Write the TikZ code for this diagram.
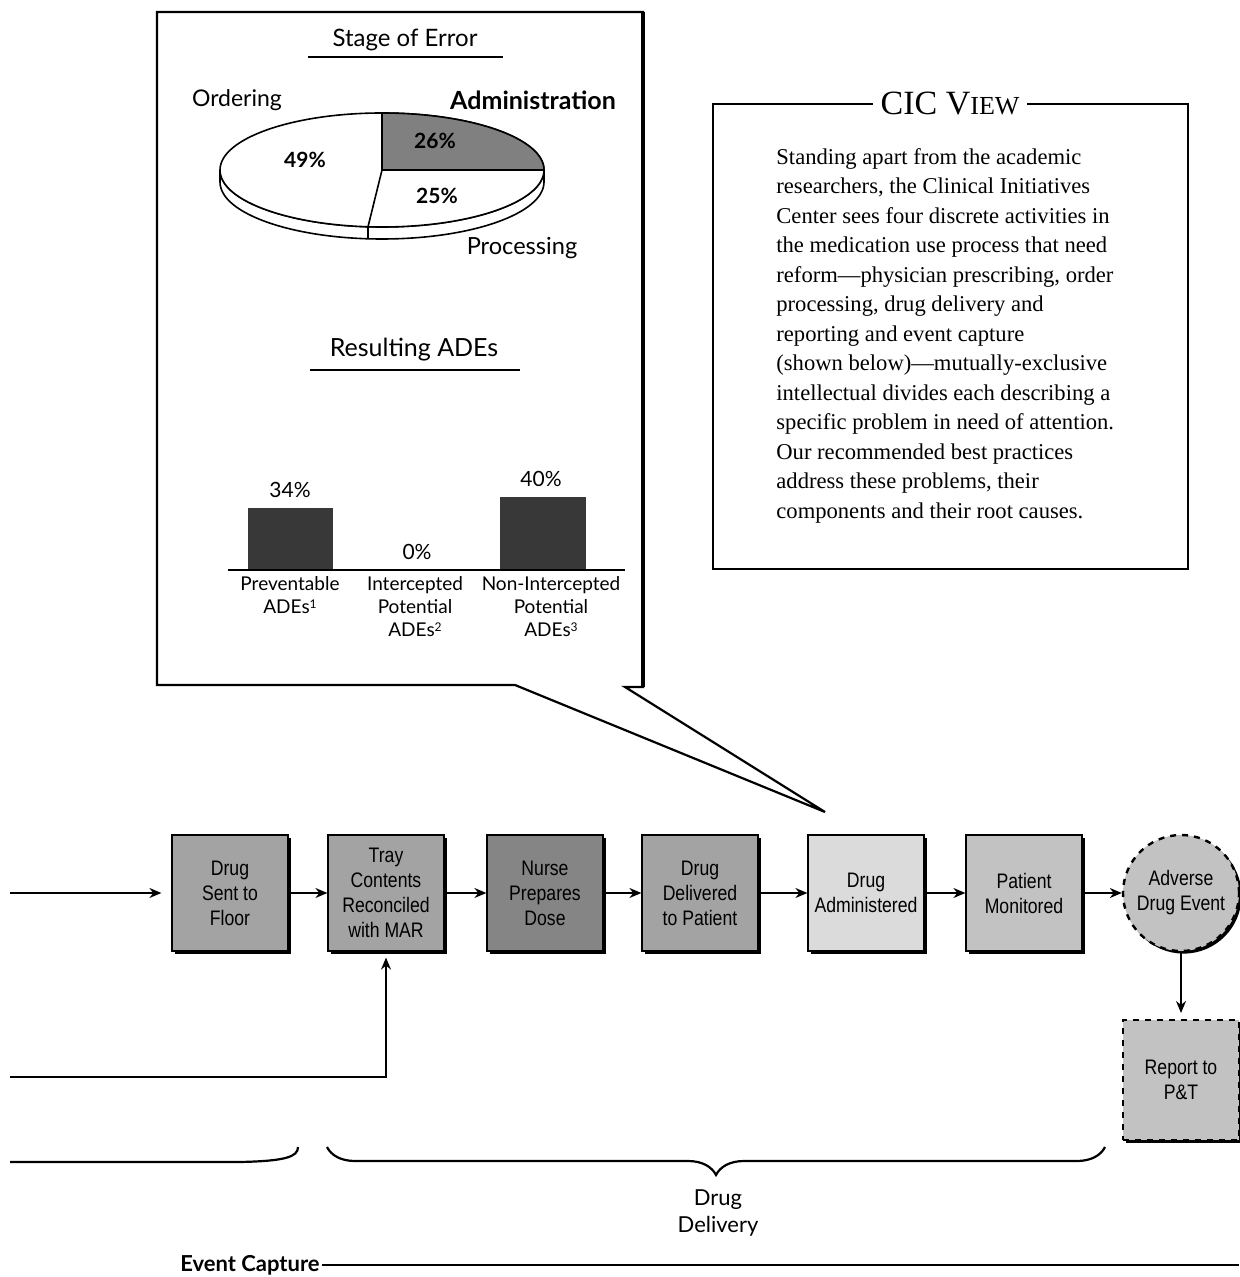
\documentclass[tikz,border=0pt]{standalone}
\usepackage{fontspec}
\setmainfont{Liberation Serif}
\newfontfamily\gill{Lato}
\newfontfamily\narrowsans[FakeStretch=0.84]{Liberation Sans}
\usepackage{tikz}
\usetikzlibrary{arrows.meta,positioning,shadows,decorations.pathreplacing}
\definecolor{cstep}{gray}{0.64}
\definecolor{cdark}{gray}{0.52}
\definecolor{clight}{gray}{0.86}
\definecolor{cmon}{gray}{0.76}
\definecolor{cslice}{gray}{0.50}
\definecolor{cbar}{gray}{0.22}

\begin{document}
\begin{tikzpicture}[
  x=0.5pt, y=-0.5pt,
  font=\gill\fontsize{10.5}{12.5}\selectfont,
  flowstep/.style={draw, line width=0.6pt, minimum width=58pt, minimum height=58pt, inner sep=1pt, align=center, fill=cstep,
    font=\narrowsans\fontsize{10.5}{12.5}\selectfont,
    drop shadow={shadow xshift=1.3pt, shadow yshift=-1.3pt, fill=black, opacity=1}},
  darkstep/.style={flowstep, fill=cdark},
  lightstep/.style={flowstep, fill=clight},
  eventstep/.style={flowstep, circle, minimum size=58pt, fill=cmon, dashed, line width=1.2pt, drop shadow={opacity=0}},
  reportstep/.style={flowstep, fill=cmon, dashed, line width=1pt, minimum width=58pt, minimum height=60pt},
  ar/.style={-{Stealth[length=6pt,width=5pt]}, line width=0.8pt},
  barlbl/.style={align=center, anchor=north, inner sep=0pt, font=\gill\fontsize{9.5}{11.5}\selectfont},
  pct/.style={font=\gill\bfseries\fontsize{10.5}{12}\selectfont, inner sep=1pt},
]
\newcommand{\supnum}[1]{\raisebox{2.5pt}{\fontsize{6}{6}\selectfont #1}}
\useasboundingbox (0,0) rectangle (1239,1277);

% callout with the two charts
\draw[line width=1.1pt, line join=miter] (157,12) -- (643,12) -- (643,687) -- (625,687) -- (825,812) -- (515,685) -- (157,685) -- cycle;
\draw[line width=2pt] (643,12) -- (643,687);

\node (stagettl) at (405,40) {\fontsize{12}{14}\selectfont Stage of Error};
\draw[line width=0.8pt] (308,57) -- (503,57);

% pie
\coordinate (pc) at (382,170);
\draw[line width=0.8pt, fill=white] (pc) ++(-81pt,0) -- ++(0,-6pt) arc[start angle=180, end angle=360, x radius=81pt, y radius=28.5pt] -- ++(0,6pt) arc[start angle=0, end angle=-180, x radius=81pt, y radius=28.5pt] -- cycle;
\draw[line width=0.8pt, fill=white] (pc) ellipse [x radius=81pt, y radius=28.5pt];
\draw[line width=0.8pt, fill=cslice] (pc) -- ++(0,28.5pt) arc[start angle=90, end angle=0, x radius=81pt, y radius=28.5pt] -- cycle;
\draw[line width=0.8pt] (pc) -- ++(-7pt,-28.4pt) -- ++(0,-6pt);
\node (ordlbl) at (237,100) {\fontsize{11.5}{13}\selectfont Ordering};
\node (admlbl) at (533,100) {\fontsize{12.5}{14}\selectfont\bfseries Administration};
\node (proclbl) at (522,248) {\fontsize{11.8}{13}\selectfont Processing};
\node[pct] (ordpct) at (305,160) {49\%};
\node[pct] (admpct) at (435,141) {26\%};
\node[pct] (procpct) at (437,196) {25\%};

% bars
\node (adettl) at (414,350) {\fontsize{12.5}{14}\selectfont Resulting ADEs};
\draw[line width=0.8pt] (310,370) -- (520,370);
\fill[cbar] (248,570) rectangle (333,508);
\fill[cbar] (500,570) rectangle (586,497);
\draw[line width=0.8pt] (228,570) -- (625,570);
\node (prevpct) at (290,490) {34\%};
\node (intpct) at (417,552) {0\%};
\node (nonpct) at (541,479) {40\%};
\node[barlbl] (prevlbl) at (290,576) {Preventable\\ADEs\supnum{1}};
\node[barlbl] (intlbl) at (415,576) {Intercepted\\Potential\\ADEs\supnum{2}};
\node[barlbl] (nonlbl) at (551,576) {Non-Intercepted\\Potential\\ADEs\supnum{3}};

% CIC box
\draw[line width=0.6pt] (713,104) rectangle (1188,569);
\node[fill=white, inner xsep=4pt, font=\rmfamily] (cicttl) at (950,104) {\fontsize{17}{18}\selectfont CIC V\fontsize{13}{14}\selectfont IEW};
\node[anchor=north west, inner sep=0pt, align=left, font=\rmfamily\fontsize{11.3}{14.75}\selectfont] (cictxt) at (776,148) {%
Standing apart from the academic\\
researchers, the Clinical Initiatives\\
Center sees four discrete activities in\\
the medication use process that need\\
reform---physician prescribing, order\\
processing, drug delivery and\\
reporting and event capture\\
(shown below)---mutually-exclusive\\
intellectual divides each describing a\\
specific problem in need of attention.\\
Our recommended best practices\\
address these problems, their\\
components and their root causes.};

% process flow
\node[flowstep] (sent) at (230,893) {Drug\\Sent to\\Floor};
\node[flowstep] (tray) at (386,893) {Tray\\Contents\\Reconciled\\with MAR};
\node[darkstep] (nurse) at (545,893) {Nurse\\Prepares\\Dose};
\node[flowstep] (deliv) at (700,893) {Drug\\Delivered\\to Patient};
\node[lightstep] (admin) at (866,893) {Drug\\Administered};
\node[flowstep, fill=cmon] (monit) at (1024,893) {Patient\\Monitored};
\node[eventstep] (ade) at (1181,893) {Adverse\\Drug Event};
\node[reportstep] (report) at (1181,1080) {Report to\\P\&T};

\coordinate (inflow) at (10,893);
\coordinate (recon) at (10,1077);
\draw[ar] (inflow) -- ([xshift=-5pt]sent.west);
\draw[ar] (sent) -- (tray);
\draw[ar] (tray) -- (nurse);
\draw[ar] (nurse) -- (deliv);
\draw[ar] (deliv) -- (admin);
\draw[ar] (admin) -- (monit);
\draw[ar] (monit) -- (ade);
\draw[ar] (ade) -- ([yshift=3pt]report.north);
\draw[ar] (recon) -| ([yshift=-3pt]tray.south);

% braces
\draw[line width=1.1pt] (10,1162) -- (240,1162) .. controls (285,1161) and (298,1157) .. (298,1147);
\draw[line width=1.1pt, decorate, decoration={brace, amplitude=14pt}] (1105,1147) -- (327,1147);
\node[align=center, font=\gill\fontsize{11}{13.5}\selectfont] (drugdel) at (718,1213) {Drug\\Delivery};
\node[anchor=east, inner sep=1pt, font=\gill\bfseries\fontsize{11}{12}\selectfont] (evcap) at (322,1265) {Event Capture};
\coordinate (evend) at (1239,1265);
\draw[line width=1pt] (evcap.east) -- (evend);
\end{tikzpicture}
\end{document}
